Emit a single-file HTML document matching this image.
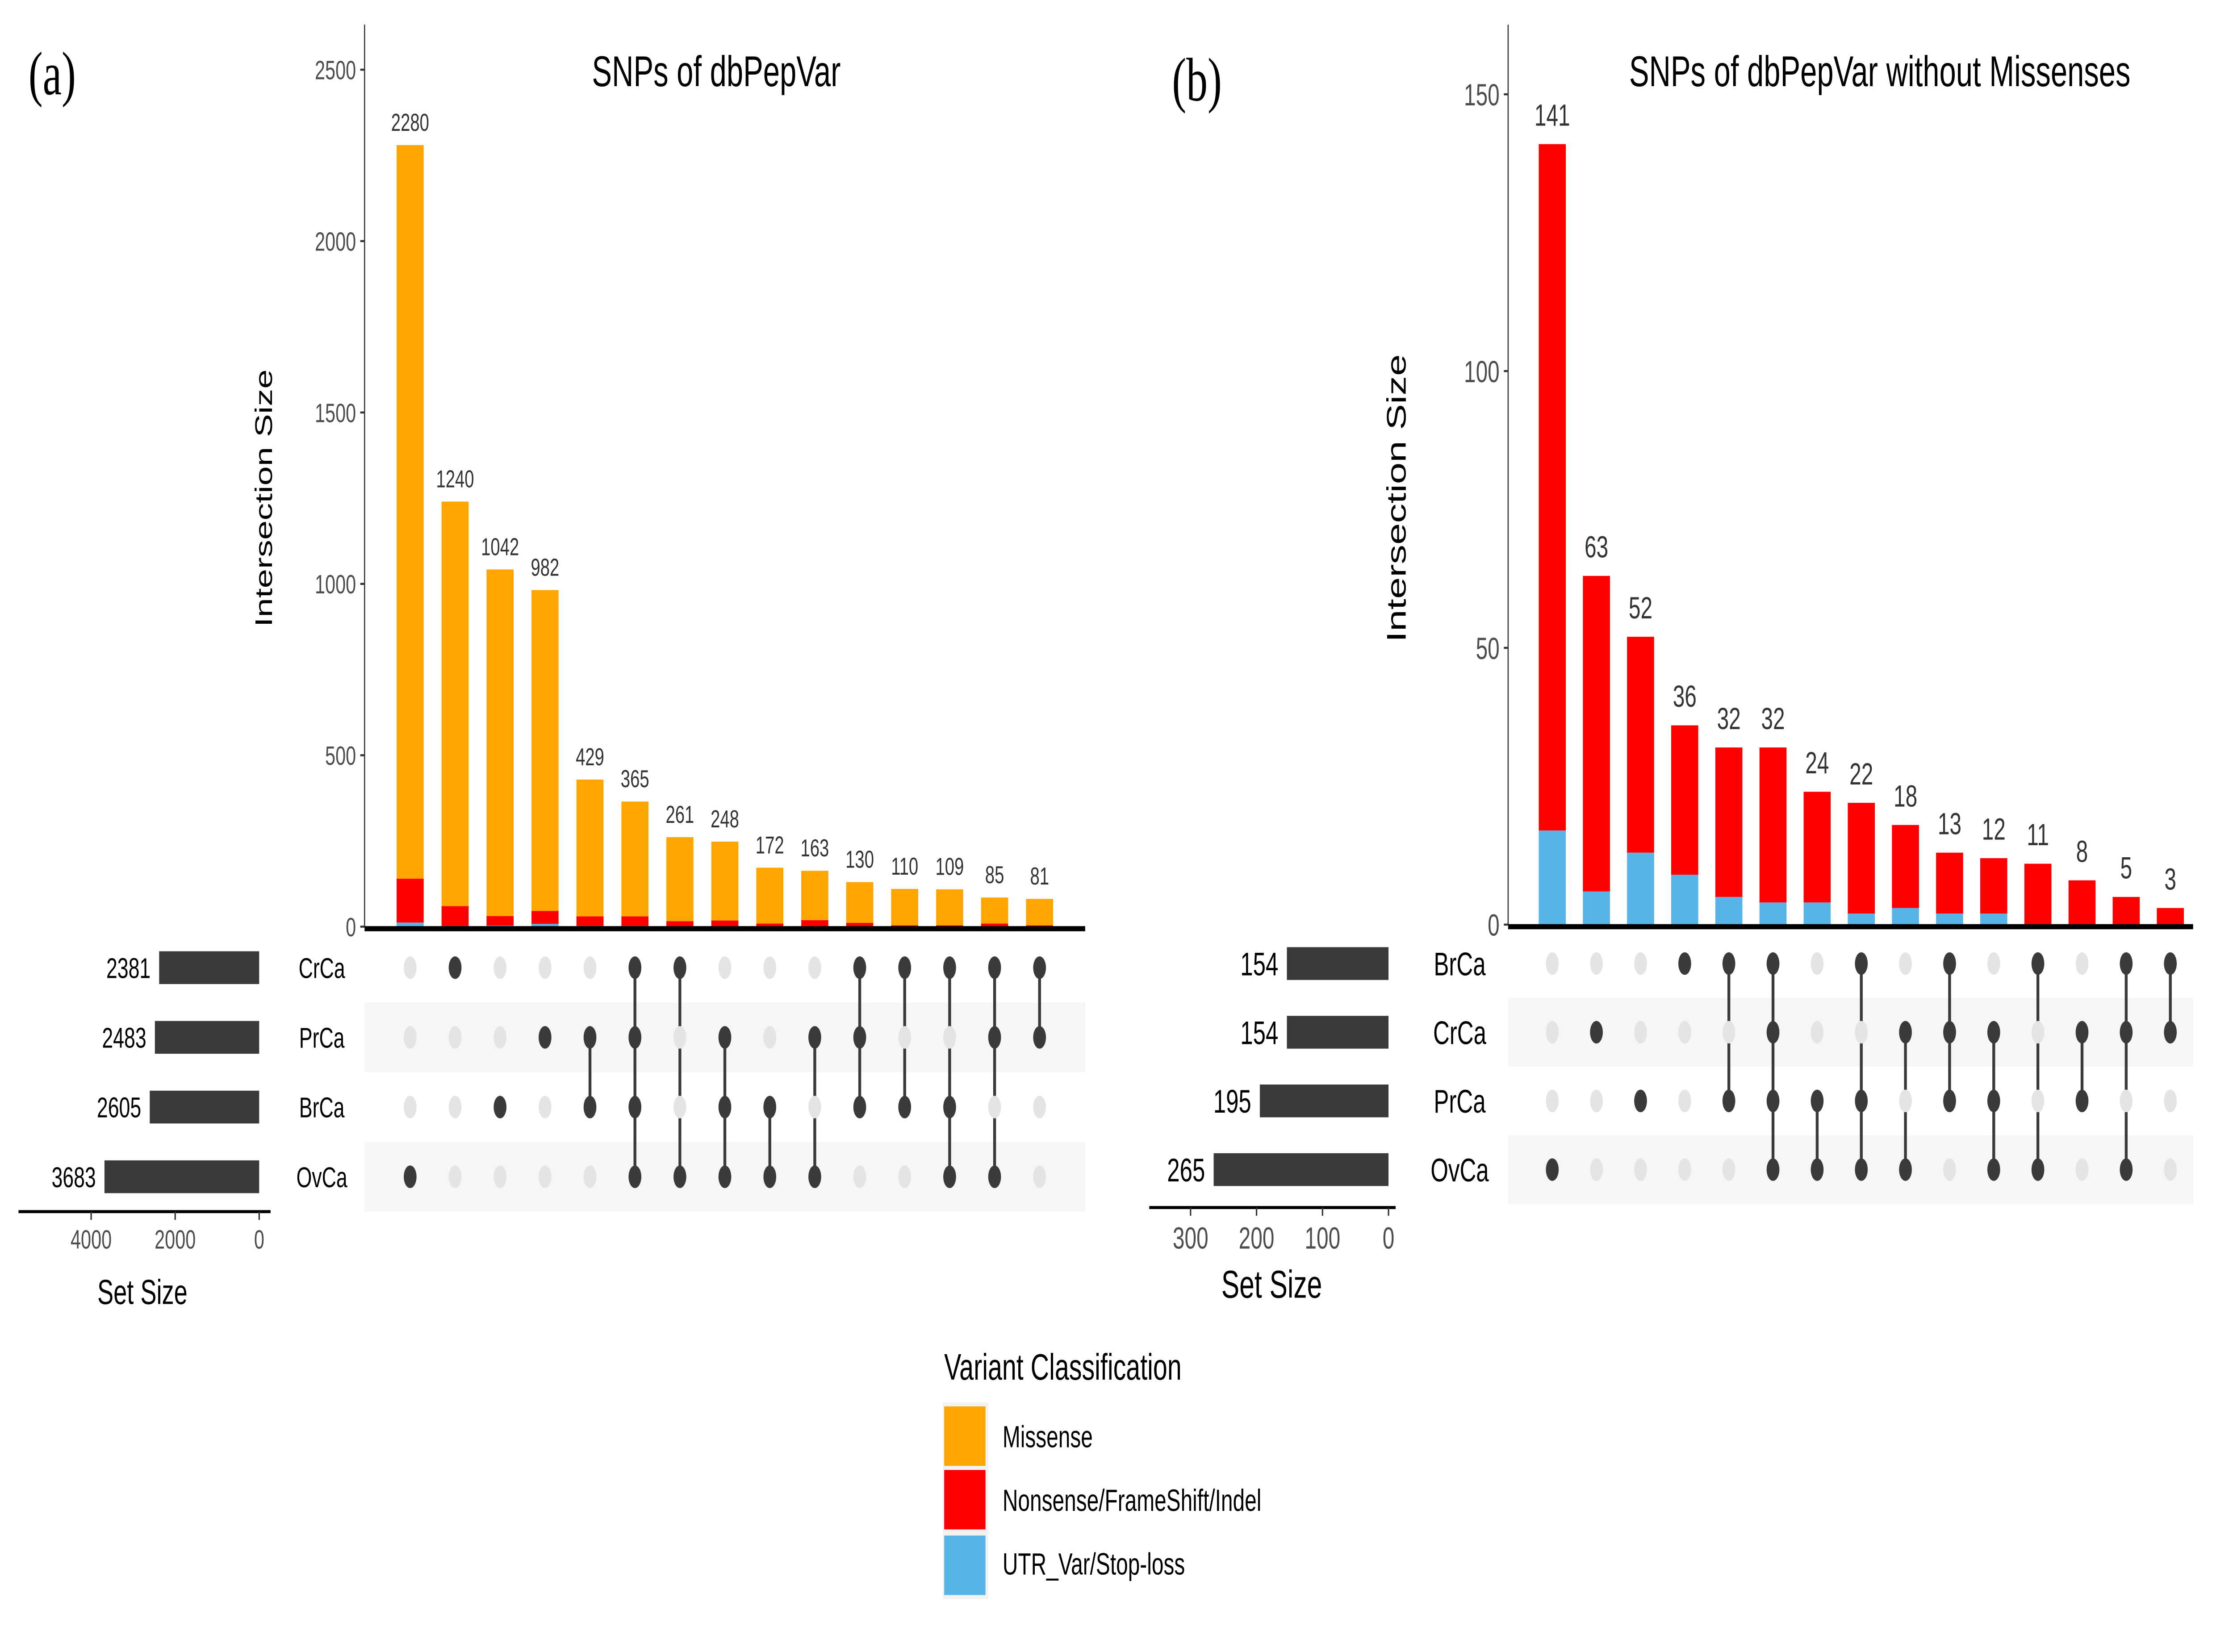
<!DOCTYPE html>
<html><head><meta charset="utf-8">
<style>
html,body{margin:0;padding:0;background:#fff;width:100%;height:100%;overflow:hidden;}
svg{display:block;font-family:"Liberation Sans",sans-serif;width:100vw;height:100vh;}
</style></head>
<body>
<svg id="fig" viewBox="0 0 1568 805.8" preserveAspectRatio="none">
  <text x="20" y="46" font-family="Liberation Serif, serif" font-size="30" fill="#000">(a)</text>
  <text x="823" y="49" font-family="Liberation Serif, serif" font-size="30" fill="#000">(b)</text>
  <text x="503" y="42" text-anchor="middle" font-size="21" fill="#000">SNPs of dbPepVar</text>
  <text x="1320" y="42" text-anchor="middle" font-size="21" fill="#000">SNPs of dbPepVar without Missenses</text>
  <text transform="translate(191,243) rotate(-90)" text-anchor="middle" font-size="17" fill="#000">Intersection Size</text>
  <text transform="translate(987,243) rotate(-90)" text-anchor="middle" font-size="19" fill="#000">Intersection Size</text>
  <text x="100" y="636" text-anchor="middle" font-size="17" fill="#000">Set Size</text>
  <text x="893" y="633" text-anchor="middle" font-size="19" fill="#000">Set Size</text>
  <g>
    <text x="663" y="673" font-size="18" fill="#000">Variant Classification</text>
    <rect x="662" y="684" width="32" height="96" fill="#f2f2f2"/>
    <rect x="663" y="686" width="29" height="29" fill="#FFA500"/>
    <rect x="663" y="717" width="29" height="29" fill="#FF0000"/>
    <rect x="663" y="749" width="29" height="29" fill="#56B4E9"/>
    <text x="704" y="706" font-size="15" fill="#000">Missense</text>
    <text x="704" y="737" font-size="15" fill="#000">Nonsense/FrameShift/Indel</text>
    <text x="704" y="768" font-size="15" fill="#000">UTR_Var/Stop-loss</text>
  </g>
  <g id="pa"></g>
  <g id="pb"></g>
</svg>
<script>
// Panel A data
const aTotals = [2280,1240,1042,982,429,365,261,248,172,163,130,110,109,85,81];
const aRed = [128,58,28,38,28,28,15,17,8,18,10,3,3,8,3];
const aBlue = [12,2,3,8,2,2,1,1,1,1,1,1,1,1,1];
const aSets = ["CrCa","PrCa","BrCa","OvCa"];
const aSetSizes = [2381,2483,2605,3683];
const aMembers = [[3],[0],[2],[1],[1,2],[0,1,2,3],[0,3],[1,2,3],[2,3],[1,3],[0,1,2],[0,2],[0,2,3],[0,1,3],[0,1]];
const aYTicks = [0,500,1000,1500,2000,2500];
const aSetTicks = [4000,2000,0];
// Panel B data
const bTotals = [141,63,52,36,32,32,24,22,18,13,12,11,8,5,3];
const bBlue = [17,6,13,9,5,4,4,2,3,2,2,0,0,0,0];
const bSets = ["BrCa","CrCa","PrCa","OvCa"];
const bSetSizes = [154,154,195,265];
const bMembers = [[3],[1],[2],[0],[0,2],[0,1,2,3],[2,3],[0,2,3],[1,3],[0,1,2],[1,2,3],[0,3],[1,2],[0,1,3],[0,1]];
const bYTicks = [0,50,100,150];
const bSetTicks = [300,200,100,0];

const NS = "http://www.w3.org/2000/svg";
function mk(parent, tag, attrs, text){
  const e = document.createElementNS(NS, tag);
  for (const k in attrs) e.setAttribute(k, attrs[k]);
  if (text !== undefined) e.textContent = text;
  parent.appendChild(e);
  return e;
}

function panel(g, cfg){
  const {totals, layers, sets, setSizes, members, yTicks, setTicks} = cfg;
  const y = v => cfg.y0 - v * cfg.yScale;
  const x = i => cfg.x0 + i * cfg.step;
  const sx = v => cfg.sRight - v * cfg.sScale;
  const rowY = r => cfg.row0 + r * cfg.rowStep;
  let e = mk(g,'line',{x1:cfg.axX,x2:cfg.axX,y1:cfg.axTop,y2:cfg.y0,stroke:'#333','stroke-width':0.8});
  
  
  yTicks.forEach(t=>{
    let tl = mk(g,'line',{x1:cfg.axX-3,x2:cfg.axX,y1:y(t),y2:y(t),stroke:'#333','stroke-width':1});
    
    
    let tx = mk(g,'text',{x:cfg.axX-6,y:y(t)+cfg.tickFs*0.36,'text-anchor':'end','font-size':cfg.tickFs,fill:'#4d4d4d'},String(t));
    
    
  });
  cfg.stripes.forEach(r=>{
    let s = mk(g,'rect',{x:cfg.axX,y:rowY(r)-cfg.rowStep/2,width:cfg.axRight-cfg.axX,height:cfg.rowStep,fill:'#f6f6f6'});
    
    
  });
  totals.forEach((tot,i)=>{
    let base = 0;
    let known = 0;
    layers.forEach(L=>{ if (L.vals) known += L.vals[i]; });
    layers.forEach(L=>{
      const v = L.vals ? L.vals[i] : Math.max(0, tot - known);
      if (v <= 0) return;
      let r = mk(g,'rect',{x:x(i)-cfg.barW/2,y:y(base+v),width:cfg.barW,height:y(base)-y(base+v),fill:L.color});
      
      
      base += v;
    });
    let lb = mk(g,'text',{x:x(i),y:y(tot)-cfg.labOff,'text-anchor':'middle','font-size':cfg.labFs,fill:'#333'},String(tot));
    
    
  });
  e = mk(g,'line',{x1:cfg.axX,x2:cfg.axRight,y1:cfg.y0+1,y2:cfg.y0+1,stroke:'#000','stroke-width':2.5});
  
  
  sets.forEach((s,r)=>{
    let t = mk(g,'text',{x:cfg.labelX,y:rowY(r)+cfg.setFs*0.36,'text-anchor':'middle','font-size':cfg.setFs,fill:'#000'},s);
    
    
    let b = mk(g,'rect',{x:sx(setSizes[r]),y:rowY(r)-8,width:cfg.sRight-sx(setSizes[r]),height:16,fill:'#3a3a3a'});
    
    
    let n = mk(g,'text',{x:sx(setSizes[r])-6,y:rowY(r)+cfg.setFs*0.36,'text-anchor':'end','font-size':cfg.setFs,fill:'#000'},String(setSizes[r]));
    
    
  });
  e = mk(g,'line',{x1:cfg.sAxL,x2:cfg.sAxR,y1:cfg.sAxY,y2:cfg.sAxY,stroke:'#000','stroke-width':1.5});
  
  
  setTicks.forEach(t=>{
    let tl = mk(g,'line',{x1:sx(t),x2:sx(t),y1:cfg.sAxY,y2:cfg.sAxY+4,stroke:'#333','stroke-width':1});
    
    
    let tx = mk(g,'text',{x:sx(t),y:cfg.sAxY+cfg.tickFs+5,'text-anchor':'middle','font-size':cfg.tickFs,fill:'#4d4d4d'},String(t));
    
    
  });
  members.forEach((m,i)=>{
    if (m.length > 1){
      const rs = m.map(rowY);
      let l = mk(g,'line',{x1:x(i),x2:x(i),y1:Math.min(...rs),y2:Math.max(...rs),stroke:'#3a3a3a','stroke-width':2});
      
      
    }
    sets.forEach((s,r)=>{
      if (m.includes(r)) return;
      let c = mk(g,'ellipse',{cx:x(i),cy:rowY(r),rx:4.5,ry:5.5,fill:'#e4e4e4'});
      
      
    });
    m.forEach(r=>{
      let c = mk(g,'ellipse',{cx:x(i),cy:rowY(r),rx:4.5,ry:5.5,fill:'#3a3a3a'});
      
      
    });
  });
}

panel(document.getElementById('pa'), {
  totals:aTotals, sets:aSets, setSizes:aSetSizes, members:aMembers, yTicks:aYTicks, setTicks:aSetTicks,
  layers:[{name:'utr',color:'#56B4E9',vals:aBlue},{name:'nonsense',color:'#FF0000',vals:aRed},{name:'missense',color:'#FFA500',vals:null}],
  y0:452, yScale:418/2500, x0:288, step:31.57, barW:19, axX:256, axTop:12, axRight:762,
  tickFs:13, labFs:12, labOff:7, setFs:14, labelX:226,
  row0:472, rowStep:34, stripes:[1,3],
  sRight:182, sScale:118/4000, sAxL:13, sAxR:190, sAxY:591
});
panel(document.getElementById('pb'), {
  totals:bTotals, sets:bSets, setSizes:bSetSizes, members:bMembers, yTicks:bYTicks, setTicks:bSetTicks,
  layers:[{name:'utr',color:'#56B4E9',vals:bBlue},{name:'nonsense',color:'#FF0000',vals:null}],
  y0:451, yScale:405/150, x0:1090, step:31, barW:19, axX:1059, axTop:12, axRight:1540,
  tickFs:15, labFs:15, labOff:9, setFs:16, labelX:1025,
  row0:470, rowStep:33.5, stripes:[1,3],
  sRight:975, sScale:139/300, sAxL:807, sAxR:980, sAxY:589
});
</script>
</body></html>
